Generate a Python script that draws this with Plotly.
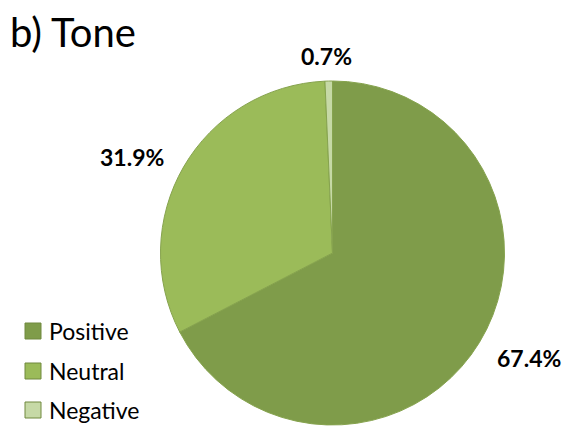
import plotly.graph_objects as go

# Share of items by tone (percent)
labels = ["Positive", "Neutral", "Negative"]
values = [67.4, 31.9, 0.7]
colors = ["#7F9C4A", "#9BBB59", "#C6D9A6"]

W, H = 567, 427
FONT = "Lato"


def px(x):
    return x / W


def py(y):
    return 1 - y / H


fig = go.Figure(
    go.Pie(
        labels=labels,
        values=values,
        sort=False,
        direction="clockwise",
        rotation=0,
        textinfo="none",
        marker=dict(colors=colors, line=dict(color="#86A34E", width=1)),
        domain=dict(x=[px(160), px(505)], y=[py(425), py(81)]),
        showlegend=False,
    )
)

# Percentage labels placed around the pie
label_pos = [(529, 358), (132, 157), (326, 56)]
annotations = []
for v, (x, y) in zip(values, label_pos):
    annotations.append(
        dict(
            x=px(x), y=py(y), xref="paper", yref="paper",
            text=f"<b>{v:.1f}%</b>", showarrow=False,
            xanchor="center", yanchor="middle",
            font=dict(family=FONT, size=23, color="#000000"),
        )
    )

# Title
annotations.append(
    dict(
        x=px(8), y=py(32), xref="paper", yref="paper",
        text="b) Tone", showarrow=False,
        xanchor="left", yanchor="middle",
        font=dict(family=FONT, size=40, color="#000000"),
    )
)

# Legend: colour swatches with labels
shapes = []
legend_y = [331, 371, 410]
for lab, col, y in zip(labels, colors, legend_y):
    shapes.append(
        dict(
            type="rect", xref="paper", yref="paper",
            x0=px(25), x1=px(41), y0=py(y + 8), y1=py(y - 8),
            fillcolor=col, line=dict(color="#71893F", width=1),
        )
    )
    annotations.append(
        dict(
            x=px(47), y=py(y), xref="paper", yref="paper",
            text=lab, showarrow=False,
            xanchor="left", yanchor="middle",
            font=dict(family=FONT, size=23, color="#000000"),
        )
    )

fig.update_layout(
    width=W, height=H,
    margin=dict(l=0, r=0, t=0, b=0),
    paper_bgcolor="white",
    plot_bgcolor="white",
    annotations=annotations,
    shapes=shapes,
)

fig.write_html("out.html")
